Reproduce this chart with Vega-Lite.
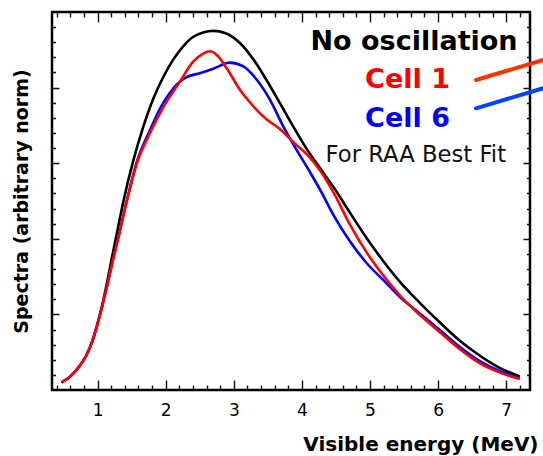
{
  "$schema": "https://vega.github.io/schema/vega-lite/v6.json",
  "width": 478,
  "height": 378,
  "autosize": "none",
  "padding": {"left": 52, "top": 12, "right": 13, "bottom": 66},
  "config": {
    "view": {"stroke": "black", "strokeWidth": 2.5},
    "font": "DejaVu Sans",
    "axis": {"domain": false, "ticks": false, "grid": true, "gridColor": "#111111", "gridWidth": 1.4, "gridOpacity": 1, "labelColor": "black", "titleColor": "black", "labelFont": "DejaVu Sans", "titleFont": "DejaVu Sans"}
  },
  "datasets": {
    "curves": [
      {"series": "No oscillation", "E": 0.47, "S": 0.10},
      {"series": "No oscillation", "E": 0.60, "S": 0.18},
      {"series": "No oscillation", "E": 0.72, "S": 0.30},
      {"series": "No oscillation", "E": 0.83, "S": 0.45},
      {"series": "No oscillation", "E": 0.92, "S": 0.64},
      {"series": "No oscillation", "E": 1.00, "S": 0.88},
      {"series": "No oscillation", "E": 1.07, "S": 1.13},
      {"series": "No oscillation", "E": 1.14, "S": 1.43},
      {"series": "No oscillation", "E": 1.21, "S": 1.75},
      {"series": "No oscillation", "E": 1.28, "S": 2.06},
      {"series": "No oscillation", "E": 1.38, "S": 2.50},
      {"series": "No oscillation", "E": 1.52, "S": 3.02},
      {"series": "No oscillation", "E": 1.67, "S": 3.48},
      {"series": "No oscillation", "E": 1.82, "S": 3.86},
      {"series": "No oscillation", "E": 1.97, "S": 4.15},
      {"series": "No oscillation", "E": 2.11, "S": 4.37},
      {"series": "No oscillation", "E": 2.26, "S": 4.55},
      {"series": "No oscillation", "E": 2.40, "S": 4.67},
      {"series": "No oscillation", "E": 2.55, "S": 4.73},
      {"series": "No oscillation", "E": 2.70, "S": 4.75},
      {"series": "No oscillation", "E": 2.88, "S": 4.72},
      {"series": "No oscillation", "E": 3.09, "S": 4.59},
      {"series": "No oscillation", "E": 3.29, "S": 4.37},
      {"series": "No oscillation", "E": 3.48, "S": 4.10},
      {"series": "No oscillation", "E": 3.68, "S": 3.79},
      {"series": "No oscillation", "E": 3.87, "S": 3.49},
      {"series": "No oscillation", "E": 4.07, "S": 3.19},
      {"series": "No oscillation", "E": 4.27, "S": 2.93},
      {"series": "No oscillation", "E": 4.46, "S": 2.69},
      {"series": "No oscillation", "E": 4.71, "S": 2.34},
      {"series": "No oscillation", "E": 4.95, "S": 2.01},
      {"series": "No oscillation", "E": 5.20, "S": 1.70},
      {"series": "No oscillation", "E": 5.44, "S": 1.43},
      {"series": "No oscillation", "E": 5.735, "S": 1.15},
      {"series": "No oscillation", "E": 6.03, "S": 0.89},
      {"series": "No oscillation", "E": 6.32, "S": 0.65},
      {"series": "No oscillation", "E": 6.62, "S": 0.45},
      {"series": "No oscillation", "E": 6.91, "S": 0.29},
      {"series": "No oscillation", "E": 7.20, "S": 0.18},

      {"series": "Cell 1", "E": 0.47, "S": 0.10},
      {"series": "Cell 1", "E": 0.60, "S": 0.18},
      {"series": "Cell 1", "E": 0.72, "S": 0.30},
      {"series": "Cell 1", "E": 0.83, "S": 0.45},
      {"series": "Cell 1", "E": 0.92, "S": 0.64},
      {"series": "Cell 1", "E": 1.00, "S": 0.88},
      {"series": "Cell 1", "E": 1.07, "S": 1.12},
      {"series": "Cell 1", "E": 1.14, "S": 1.38},
      {"series": "Cell 1", "E": 1.22, "S": 1.70},
      {"series": "Cell 1", "E": 1.30, "S": 2.00},
      {"series": "Cell 1", "E": 1.43, "S": 2.50},
      {"series": "Cell 1", "E": 1.57, "S": 2.98},
      {"series": "Cell 1", "E": 1.77, "S": 3.40},
      {"series": "Cell 1", "E": 1.97, "S": 3.75},
      {"series": "Cell 1", "E": 2.21, "S": 4.08},
      {"series": "Cell 1", "E": 2.40, "S": 4.34},
      {"series": "Cell 1", "E": 2.55, "S": 4.45},
      {"series": "Cell 1", "E": 2.65, "S": 4.48},
      {"series": "Cell 1", "E": 2.75, "S": 4.43},
      {"series": "Cell 1", "E": 2.90, "S": 4.25},
      {"series": "Cell 1", "E": 3.09, "S": 3.97},
      {"series": "Cell 1", "E": 3.29, "S": 3.75},
      {"series": "Cell 1", "E": 3.48, "S": 3.58},
      {"series": "Cell 1", "E": 3.68, "S": 3.45},
      {"series": "Cell 1", "E": 3.87, "S": 3.28},
      {"series": "Cell 1", "E": 4.07, "S": 3.12},
      {"series": "Cell 1", "E": 4.27, "S": 2.90},
      {"series": "Cell 1", "E": 4.46, "S": 2.62},
      {"series": "Cell 1", "E": 4.71, "S": 2.18},
      {"series": "Cell 1", "E": 4.95, "S": 1.82},
      {"series": "Cell 1", "E": 5.20, "S": 1.51},
      {"series": "Cell 1", "E": 5.44, "S": 1.25},
      {"series": "Cell 1", "E": 5.735, "S": 0.99},
      {"series": "Cell 1", "E": 6.03, "S": 0.76},
      {"series": "Cell 1", "E": 6.32, "S": 0.54},
      {"series": "Cell 1", "E": 6.62, "S": 0.35},
      {"series": "Cell 1", "E": 6.91, "S": 0.23},
      {"series": "Cell 1", "E": 7.20, "S": 0.145},

      {"series": "Cell 6", "E": 0.47, "S": 0.10},
      {"series": "Cell 6", "E": 0.60, "S": 0.18},
      {"series": "Cell 6", "E": 0.72, "S": 0.30},
      {"series": "Cell 6", "E": 0.83, "S": 0.45},
      {"series": "Cell 6", "E": 0.92, "S": 0.64},
      {"series": "Cell 6", "E": 1.00, "S": 0.88},
      {"series": "Cell 6", "E": 1.07, "S": 1.12},
      {"series": "Cell 6", "E": 1.14, "S": 1.38},
      {"series": "Cell 6", "E": 1.22, "S": 1.70},
      {"series": "Cell 6", "E": 1.30, "S": 2.00},
      {"series": "Cell 6", "E": 1.43, "S": 2.51},
      {"series": "Cell 6", "E": 1.57, "S": 3.00},
      {"series": "Cell 6", "E": 1.77, "S": 3.44},
      {"series": "Cell 6", "E": 1.92, "S": 3.73},
      {"series": "Cell 6", "E": 2.06, "S": 3.93},
      {"series": "Cell 6", "E": 2.16, "S": 4.04},
      {"series": "Cell 6", "E": 2.24, "S": 4.10},
      {"series": "Cell 6", "E": 2.31, "S": 4.14},
      {"series": "Cell 6", "E": 2.50, "S": 4.19},
      {"series": "Cell 6", "E": 2.70, "S": 4.25},
      {"series": "Cell 6", "E": 2.94, "S": 4.33},
      {"series": "Cell 6", "E": 3.14, "S": 4.28},
      {"series": "Cell 6", "E": 3.34, "S": 4.10},
      {"series": "Cell 6", "E": 3.53, "S": 3.84},
      {"series": "Cell 6", "E": 3.73, "S": 3.48},
      {"series": "Cell 6", "E": 3.92, "S": 3.18},
      {"series": "Cell 6", "E": 4.12, "S": 2.88},
      {"series": "Cell 6", "E": 4.29, "S": 2.61},
      {"series": "Cell 6", "E": 4.46, "S": 2.32},
      {"series": "Cell 6", "E": 4.71, "S": 1.96},
      {"series": "Cell 6", "E": 4.95, "S": 1.68},
      {"series": "Cell 6", "E": 5.20, "S": 1.45},
      {"series": "Cell 6", "E": 5.44, "S": 1.23},
      {"series": "Cell 6", "E": 5.735, "S": 1.01},
      {"series": "Cell 6", "E": 6.03, "S": 0.79},
      {"series": "Cell 6", "E": 6.32, "S": 0.57},
      {"series": "Cell 6", "E": 6.62, "S": 0.38},
      {"series": "Cell 6", "E": 6.91, "S": 0.25},
      {"series": "Cell 6", "E": 7.20, "S": 0.16}
    ],
    "labels": [
      {"series": "No oscillation", "label": "No oscillation", "E": 5.647, "S": 4.497},
      {"series": "Cell 1", "label": "Cell 1", "E": 5.551, "S": 3.99},
      {"series": "Cell 6", "label": "Cell 6", "E": 5.551, "S": 3.475}
    ],
    "note": [
      {"label": "For RAA Best Fit", "E": 5.673, "S": 3.02}
    ],
    "keys": [
      {"series": "Cell 1", "E": 6.557, "E2": 7.545, "S": 4.101, "S2": 4.365},
      {"series": "Cell 6", "E": 6.557, "E2": 7.545, "S": 3.726, "S2": 3.991}
    ]
  },
  "layer": [
    {
      "data": {"name": "curves"},
      "transform": [{"filter": "datum.series === 'No oscillation'"}],
      "mark": {"type": "line", "interpolate": "monotone", "strokeWidth": 2.6},
      "encoding": {
        "x": {"field": "E", "type": "quantitative", "scale": {"domain": [0.33, 7.35], "nice": false, "zero": false},
          "axis": {"orient": "bottom",
            "values": [0.4, 0.6, 0.8, 1, 1.2, 1.4, 1.6, 1.8, 2, 2.2, 2.4, 2.6, 2.8, 3, 3.2, 3.4, 3.6, 3.8, 4, 4.2, 4.4, 4.6, 4.8, 5, 5.2, 5.4, 5.6, 5.8, 6, 6.2, 6.4, 6.6, 6.8, 7, 7.2],
            "gridDash": {"condition": {"test": "abs(datum.value - round(datum.value)) < 0.001", "value": [10, 358]}, "value": [5, 368]},
            "labelExpr": "abs(datum.value - round(datum.value)) < 0.001 ? format(datum.value, 'd') : ''",
            "labelPadding": 12, "labelFontSize": 17, "labelFlush": false, "labelOverlap": false,
            "title": "Visible energy (MeV)", "titleFontSize": 20, "titleFontWeight": "bold", "titleX": 486, "titleY": 60, "titleAlign": "right", "titleAnchor": "end", "titleBaseline": "alphabetic"}},
        "y": {"field": "S", "type": "quantitative", "scale": {"domain": [0, 5], "nice": false, "zero": false},
          "axis": {"orient": "left",
            "values": [0.2, 0.4, 0.6, 0.8, 1, 1.2, 1.4, 1.6, 1.8, 2, 2.2, 2.4, 2.6, 2.8, 3, 3.2, 3.4, 3.6, 3.8, 4, 4.2, 4.4, 4.6, 4.8],
            "gridDash": {"condition": {"test": "abs(datum.value - round(datum.value)) < 0.001", "value": [7, 464]}, "value": [3.5, 471]},
            "labels": false,
            "title": "Spectra (arbitrary norm)", "titleFontSize": 19, "titleFontWeight": "bold", "titleX": -25, "titleY": 189, "titleAngle": 270, "titleAlign": "center", "titleBaseline": "alphabetic"}},
        "color": {"field": "series", "type": "nominal", "scale": {"domain": ["No oscillation", "Cell 1", "Cell 6"], "range": ["#000000", "#ff0000", "#0000ff"]}, "legend": null}
      }
    },
    {
      "data": {"name": "curves"},
      "transform": [{"filter": "datum.series === 'Cell 6'"}],
      "mark": {"type": "line", "interpolate": "monotone", "strokeWidth": 2.6},
      "encoding": {
        "x": {"field": "E", "type": "quantitative", "axis": null},
        "y": {"field": "S", "type": "quantitative", "axis": null},
        "color": {"field": "series", "type": "nominal", "legend": null}
      }
    },
    {
      "data": {"name": "curves"},
      "transform": [{"filter": "datum.series === 'Cell 1'"}],
      "mark": {"type": "line", "interpolate": "monotone", "strokeWidth": 2.6},
      "encoding": {
        "x": {"field": "E", "type": "quantitative", "axis": null},
        "y": {"field": "S", "type": "quantitative", "axis": null},
        "color": {"field": "series", "type": "nominal", "legend": null}
      }
    },
    {
      "data": {"name": "labels"},
      "mark": {"type": "text", "font": "DejaVu Sans", "fontWeight": "bold", "fontSize": 27, "align": "center", "baseline": "alphabetic"},
      "encoding": {
        "x": {"field": "E", "type": "quantitative", "axis": null},
        "y": {"field": "S", "type": "quantitative", "axis": null},
        "text": {"field": "label", "type": "nominal"},
        "color": {"field": "series", "type": "nominal", "legend": null}
      }
    },
    {
      "data": {"name": "note"},
      "mark": {"type": "text", "font": "DejaVu Sans", "fontSize": 22.7, "align": "center", "baseline": "alphabetic", "color": "#111111"},
      "encoding": {
        "x": {"field": "E", "type": "quantitative", "axis": null},
        "y": {"field": "S", "type": "quantitative", "axis": null},
        "text": {"field": "label", "type": "nominal"}
      }
    },
    {
      "data": {"name": "keys"},
      "mark": {"type": "rule", "strokeWidth": 4, "strokeCap": "round"},
      "encoding": {
        "x": {"field": "E", "type": "quantitative", "axis": null},
        "x2": {"field": "E2"},
        "y": {"field": "S", "type": "quantitative", "axis": null},
        "y2": {"field": "S2"},
        "stroke": {"field": "series", "type": "nominal", "scale": {"domain": ["Cell 1", "Cell 6"], "range": ["#ff3300", "#0044ff"]}, "legend": null}
      }
    }
  ],
  "resolve": {"axis": {"x": "independent", "y": "independent"}}
}
